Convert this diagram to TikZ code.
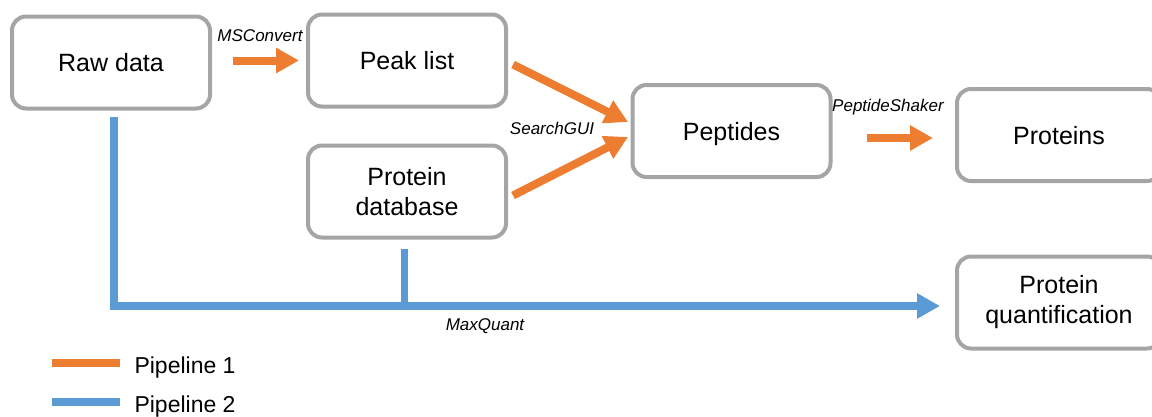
\documentclass[tikz,border=0pt]{standalone}
\usepackage{fontspec}
\setmainfont{Liberation Sans}
\usetikzlibrary{arrows.meta,positioning}
\definecolor{boxgray}{HTML}{A5A5A5}
\definecolor{pipeorange}{HTML}{ED7D31}
\definecolor{pipeblue}{HTML}{5B9BD5}

\begin{document}
\begin{tikzpicture}[x=1pt,y=-1pt,
  stage/.style={draw=boxgray,line width=4pt,rounded corners=14pt,
    minimum width=198pt,minimum height=92pt,align=center,
    font=\fontsize{25}{30}\selectfont},
  oneline/.style={text height=22pt,text depth=4pt},
  tool/.style={font=\fontsize{17}{20}\selectfont\itshape},
  pipeone/.style={draw=pipeorange,line width=8pt},
  pipetwo/.style={draw=pipeblue,line width=7.5pt},
  flow/.style={-{Triangle[length=23pt,width=24pt]}},
  key/.style={font=\fontsize{23}{27}\selectfont,anchor=base west}]
 \useasboundingbox (0,0) rectangle (1152,416);

 % stages
 \node[stage,oneline] (raw) at (111,62.5) {Raw data};
 \node[stage,oneline] (peak) at (407,60.5) {Peak list};
 \node[stage] (db) at (407,191.5) {Protein\\database};
 \node[stage,oneline] (pept) at (731.5,131) {Peptides};
 \node[stage,oneline,minimum width=204pt] (prot) at (1059,135) {Proteins};
 \node[stage,minimum width=204pt] (quant) at (1059,302.5) {Protein\\quantification};

 % pipeline 1
 \draw[pipeone,flow,shorten <=21pt,shorten >=7pt] (raw.east |- peak) -- (peak.west);
 \node[tool] (msc) at (260,36) {MSConvert};
 \draw[pipeone,flow] ([xshift=5pt,yshift=-4pt]peak.east)
   -- ([xshift=-2.5pt,yshift=9pt]pept.west);
 \draw[pipeone,flow] ([xshift=5pt,yshift=-4pt]db.east)
   -- ([xshift=-2.5pt,yshift=-6pt]pept.west);
 \node[tool] (sgui) at (552,128) {SearchGUI};
 \coordinate (shk) at (900,138);
 \draw[pipeone,flow,shorten <=34pt,shorten >=22pt]
   (pept.east |- shk) -- (prot.west |- shk);
 \node[tool] (pshk) at (888,107.5) {PeptideShaker};

 % pipeline 2
 \coordinate (mq) at (404.5,306);
 \coordinate (dbfoot) at ([yshift=-9.5pt]db.south);
 \draw[pipetwo,flow,shorten >=15pt] ([xshift=3pt,yshift=-6.5pt]raw.south)
   |- (mq) -- (mq -| quant.west);
 \draw[pipetwo] (dbfoot -| mq) -- (mq);
 \node[tool] (mqlbl) at (485,326) {MaxQuant};

 % legend
 \draw[pipeone] (52,363) -- (120,363);
 \node[key] (k1) at (131,373) {Pipeline 1};
 \draw[pipetwo] (52,402) -- (120,402);
 \node[key] (k2) at (131,412) {Pipeline 2};
\end{tikzpicture}
\end{document}
